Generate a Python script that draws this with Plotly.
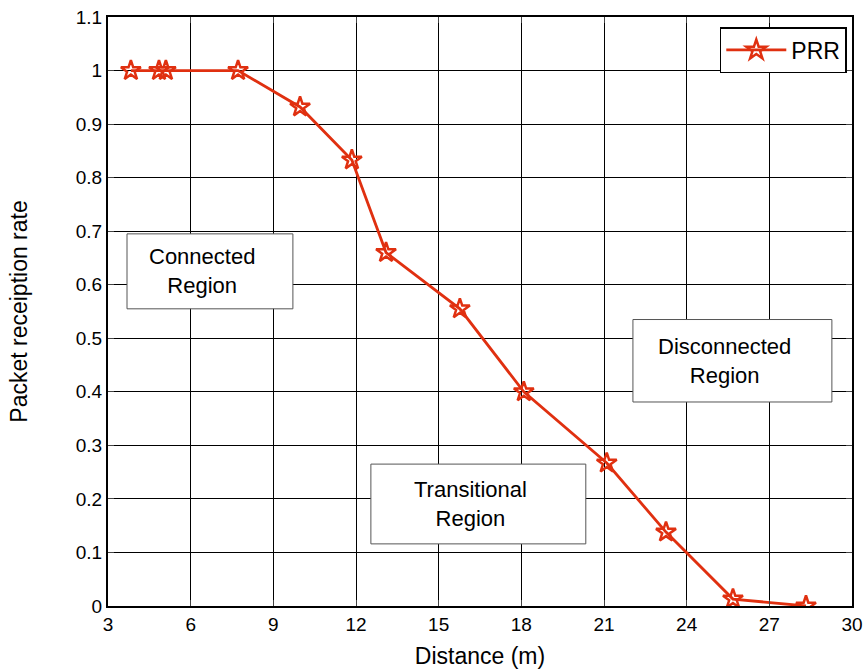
import plotly.graph_objects as go

distance = [3.83, 4.85, 5.1, 7.72, 9.97, 11.85, 13.09, 15.77, 18.09, 21.1, 23.25, 25.68, 28.33]
prr = [1.0, 1.0, 1.0, 1.0, 0.932, 0.833, 0.66, 0.555, 0.4, 0.267, 0.138, 0.013, 0.0]

x_ticks = [3, 6, 9, 12, 15, 18, 21, 24, 27, 30]
y_ticks = [0, 0.1, 0.2, 0.3, 0.4, 0.5, 0.6, 0.7, 0.8, 0.9, 1, 1.1]
y_labels = ["0", "0.1", "0.2", "0.3", "0.4", "0.5", "0.6", "0.7", "0.8", "0.9", "1", "1.1"]

regions = [
    {"text": "Connected<br>Region", "x0": 3.69, "x1": 9.71, "y0": 0.555, "y1": 0.695},
    {"text": "Disconnected<br>Region", "x0": 22.05, "x1": 29.27, "y0": 0.381, "y1": 0.535},
    {"text": "Transitional<br>Region", "x0": 12.54, "x1": 20.34, "y0": 0.116, "y1": 0.265},
]

red = "#e03010"
fig = go.Figure()
fig.add_trace(go.Scatter(
    x=distance, y=prr, mode="lines+markers", name="PRR",
    line=dict(color=red, width=2.8),
    marker=dict(symbol="star-open", size=15, color=red, line=dict(color=red, width=2.5)),
))

shapes = []
annotations = []
for r in regions:
    shapes.append(dict(type="rect", xref="x", yref="y", x0=r["x0"], x1=r["x1"], y0=r["y0"], y1=r["y1"],
                       line=dict(color="#555555", width=1), fillcolor="white", layer="above"))
    annotations.append(dict(x=(r["x0"] + r["x1"]) / 2 - 0.3, y=(r["y0"] + r["y1"]) / 2, xref="x", yref="y",
                            text=r["text"], showarrow=False,
                            font=dict(family="Liberation Sans, Arial", size=22, color="black")))

fig.update_layout(
    width=868, height=672,
    margin=dict(l=108, r=16, t=17, b=66, autoexpand=False),
    paper_bgcolor="white", plot_bgcolor="white",
    font=dict(family="Liberation Sans, Arial", size=16, color="black"),
    shapes=shapes, annotations=annotations,
    legend=dict(x=0.993, y=0.983, xanchor="right", yanchor="top",
                bordercolor="black", borderwidth=1.5, bgcolor="white",
                font=dict(size=23), itemwidth=60),
    showlegend=True,
)
fig.update_xaxes(range=[3, 30], tickvals=x_ticks, ticks="inside", ticklen=6,
                 showgrid=True, gridcolor="black", gridwidth=1,
                 showline=True, linecolor="black", linewidth=2, mirror="ticks",
                 zeroline=False, automargin=False,
                 title=dict(text="Distance (m)", font=dict(size=23), standoff=14),
                 tickfont=dict(size=19))
fig.update_yaxes(range=[0, 1.1], tickvals=y_ticks, ticktext=y_labels, ticks="inside", ticklen=6,
                 showgrid=True, gridcolor="black", gridwidth=1,
                 showline=True, linecolor="black", linewidth=2, mirror="ticks",
                 zeroline=False, automargin=False,
                 title=dict(text="Packet receiption rate", font=dict(size=23), standoff=42),
                 tickfont=dict(size=19))

fig.write_html("out.html", config={"displayModeBar": False},
               post_script="document.body.style.margin='0';document.body.style.overflow='hidden';")
